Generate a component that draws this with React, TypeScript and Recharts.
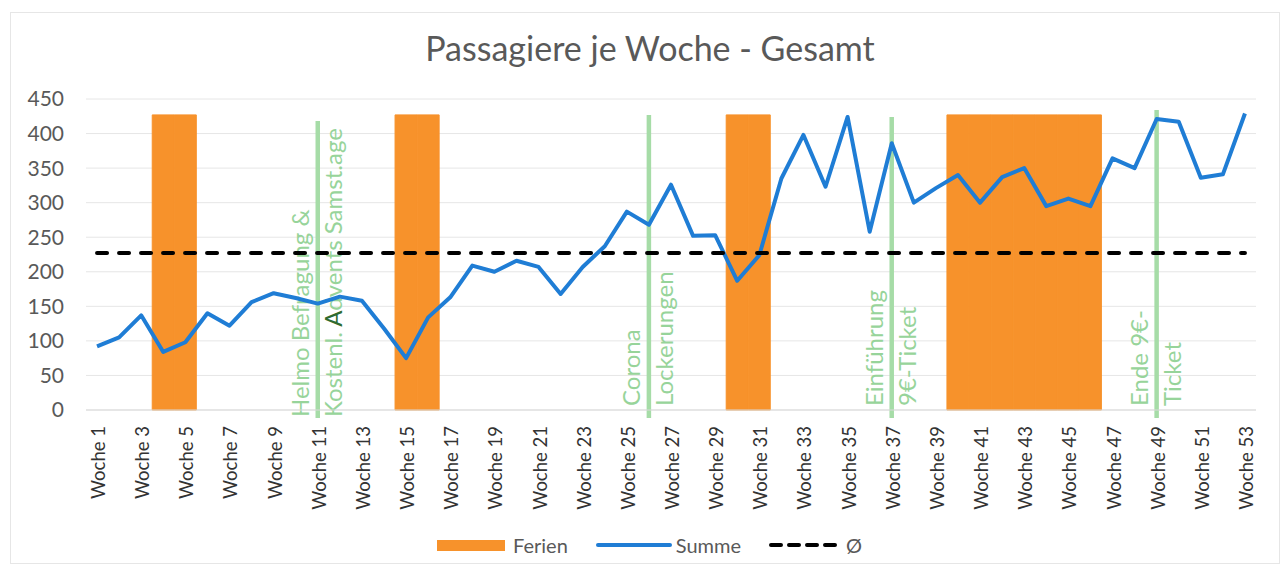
import React from 'react';
import { ComposedChart, Bar, Line, XAxis, YAxis, CartesianGrid, Legend } from 'recharts';

const weeks = [
  'Woche 1', 'Woche 2', 'Woche 3', 'Woche 4', 'Woche 5', 'Woche 6', 'Woche 7', 'Woche 8', 'Woche 9', 'Woche 10',
  'Woche 11', 'Woche 12', 'Woche 13', 'Woche 14', 'Woche 15', 'Woche 16', 'Woche 17', 'Woche 18', 'Woche 19', 'Woche 20',
  'Woche 21', 'Woche 22', 'Woche 23', 'Woche 24', 'Woche 25', 'Woche 26', 'Woche 27', 'Woche 28', 'Woche 29', 'Woche 30',
  'Woche 31', 'Woche 32', 'Woche 33', 'Woche 34', 'Woche 35', 'Woche 36', 'Woche 37', 'Woche 38', 'Woche 39', 'Woche 40',
  'Woche 41', 'Woche 42', 'Woche 43', 'Woche 44', 'Woche 45', 'Woche 46', 'Woche 47', 'Woche 48', 'Woche 49', 'Woche 50',
  'Woche 51', 'Woche 52', 'Woche 53',
];

const summe = [
  92, 105, 137, 84, 98, 140, 122, 156, 169, 162,
  154, 164, 158, 118, 75, 134, 163, 209, 200, 216,
  207, 168, 207, 237, 287, 268, 326, 252, 253, 187,
  224, 335, 398, 323, 424, 258, 386, 300, 321, 340,
  300, 337, 350, 295, 306, 295, 364, 350, 421, 417,
  336, 341, 429,
];

const average = 227;

const ferienWeeks = [
  'Woche 4', 'Woche 5', 'Woche 15', 'Woche 16', 'Woche 30', 'Woche 31',
  'Woche 40', 'Woche 41', 'Woche 42', 'Woche 43', 'Woche 44', 'Woche 45', 'Woche 46',
];
const ferienHeight = 427;

const markerWeeks = ['Woche 11', 'Woche 26', 'Woche 37', 'Woche 49'];
const markerHeights = [418, 427, 424, 434];
const markerLabels = [
  ['Helmo Befragung &', 'Kostenl. Advents Samst.age'],
  ['Corona', 'Lockerungen'],
  ['Einführung', '9€-Ticket'],
  ['Ende 9€-', 'Ticket'],
];

const yTicks = [0, 50, 100, 150, 200, 250, 300, 350, 400, 450];

const title = 'Passagiere je Woche - Gesamt';

const data = weeks.map((week, i) => {
  const m = markerWeeks.indexOf(week);
  return {
    week,
    ferien: ferienWeeks.includes(week) ? ferienHeight : null,
    marker: m >= 0 ? markerHeights[m] : null,
    summe: summe[i],
    avg: average,
  };
});

const FONT = 'Lato, "Open Sans", sans-serif';
const ORANGE = '#F7922B';
const BLUE = '#1F7DD5';
const GREEN_LINE = '#A6DCA7';
const GREEN_TEXT = '#97D49A';

const MarkerShape = (props: any) => {
  const { x, y, width, height, payload } = props;
  if (!payload || payload.marker == null) return null;
  const idx = markerWeeks.indexOf(payload.week);
  const cx = x + width / 2;
  const bottom = y + height;
  const textBottom = bottom + (idx === 0 ? 7 : -4);
  const labels = markerLabels[idx] || [];
  return (
    <g>
      <line x1={cx} x2={cx} y1={y} y2={bottom + 8} stroke={GREEN_LINE} strokeWidth={4.5} />
      {labels.map((t, j) => {
        const bx = cx + (j === 0 ? -9 : 24);
        let content: any = t;
        if (idx === 0 && j === 1) {
          content = (
            <>
              <tspan>Kostenl. </tspan>
              <tspan fill="#2F6B2F">A</tspan>
              <tspan>dvents Samst.age</tspan>
            </>
          );
        }
        return (
          <text
            key={j}
            x={bx}
            y={textBottom}
            transform={`rotate(-90 ${bx} ${textBottom})`}
            textAnchor="start"
            fontFamily={FONT}
            fontSize={24}
            fill={GREEN_TEXT}
          >
            {content}
          </text>
        );
      })}
    </g>
  );
};

const XTick = (props: any) => {
  const { x, payload } = props;
  const bx = x + 8;
  const by = 426;
  return (
    <text
      x={bx}
      y={by}
      transform={`rotate(-90 ${bx} ${by})`}
      textAnchor="end"
      fontFamily={FONT}
      fontSize={18.5}
      fill="#333333"
    >
      {payload.value}
    </text>
  );
};

const LegendContent = () => {
  const textStyle: React.CSSProperties = { fontFamily: FONT, fontSize: 20, color: '#595959', lineHeight: '24px' };
  return (
    <div style={{ display: 'flex', alignItems: 'center', height: 28, marginLeft: 437 }}>
      <div style={{ width: 68, height: 11, background: ORANGE }} />
      <span style={{ ...textStyle, marginLeft: 8 }}>Ferien</span>
      <svg width={76} height={10} style={{ marginLeft: 28 }}>
        <line x1={2} x2={74} y1={5} y2={5} stroke={BLUE} strokeWidth={4} strokeLinecap="round" />
      </svg>
      <span style={{ ...textStyle, marginLeft: 4 }}>Summe</span>
      <svg width={74} height={10} style={{ marginLeft: 28 }}>
        <line x1={2} x2={72} y1={5} y2={5} stroke="#000" strokeWidth={4} strokeDasharray="10 8" strokeLinecap="round" />
      </svg>
      <span style={{ ...textStyle, marginLeft: 3 }}>Ø</span>
    </div>
  );
};

export default function App() {
  return (
    <div style={{ position: 'absolute', left: 0, top: 0, width: 1285, height: 569, background: '#fff' }}>
      <div
        style={{
          position: 'absolute', left: 10, top: 12, width: 1270, height: 552,
          border: '1px solid #e6e6e6', boxSizing: 'border-box',
        }}
      />
      <div
        style={{
          position: 'absolute', left: 0, top: 28, width: 1300, textAlign: 'center',
          fontFamily: FONT, fontSize: 34, lineHeight: '40px', color: '#595959',
        }}
      >
        {title}
      </div>
      <ComposedChart
        width={1285}
        height={569}
        data={data}
        margin={{ top: 99, right: 29, bottom: 49, left: 26 }}
        barCategoryGap={0}
        barGap={0}
      >
        <CartesianGrid vertical={false} stroke="#e6e6e6" strokeWidth={1} />
        <XAxis
          dataKey="week"
          interval={1}
          tickLine={false}
          axisLine={{ stroke: '#d9d9d9' }}
          height={110}
          tick={<XTick />}
        />
        <YAxis
          width={60}
          domain={[0, 450]}
          ticks={yTicks}
          axisLine={false}
          tickLine={false}
          tickMargin={16}
          tick={{ fontFamily: FONT, fontSize: 21, fill: '#595959' }}
        />
        <Bar
          dataKey="ferien"
          name="Ferien"
          stackId="a"
          fill={ORANGE}
          stroke={ORANGE}
          strokeWidth={1}
          isAnimationActive={false}
        />
        <Bar
          dataKey="marker"
          name="marker"
          stackId="a"
          legendType="none"
          fill={GREEN_LINE}
          shape={(p: any) => <MarkerShape {...p} />}
          isAnimationActive={false}
        />
        <Line
          dataKey="summe"
          name="Summe"
          type="linear"
          stroke={BLUE}
          strokeWidth={4}
          dot={false}
          activeDot={false}
          strokeLinejoin="round"
          isAnimationActive={false}
        />
        <Line
          dataKey="avg"
          name="Ø"
          type="linear"
          stroke="#000"
          strokeWidth={4}
          strokeDasharray="10 12"
          strokeLinecap="round"
          dot={false}
          activeDot={false}
          isAnimationActive={false}
        />
        <Legend
          verticalAlign="middle"
          align="center"
          layout="horizontal"
          wrapperStyle={{ position: 'absolute', top: 531, left: 0, width: 1285, height: 28 }}
          content={() => <LegendContent />}
        />
      </ComposedChart>
    </div>
  );
}
